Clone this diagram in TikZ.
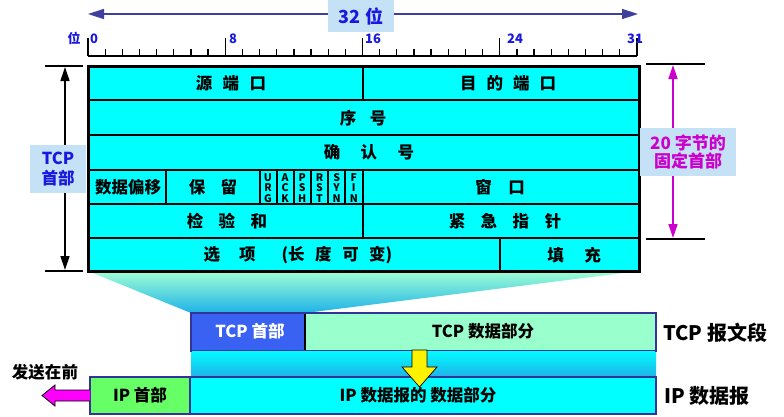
\documentclass[tikz,border=0pt]{standalone}
\usepackage{fontspec}
\setmainfont{Noto Sans CJK SC}
\usetikzlibrary{arrows.meta}
\definecolor{hdrcyan}{HTML}{00FFFF}
\definecolor{rulerblue}{HTML}{1818E0}
\definecolor{arrowindigo}{HTML}{3F3F9F}
\definecolor{labelbg}{HTML}{C5E1F6}
\definecolor{magentalbl}{HTML}{CC00CC}
\definecolor{segborder}{HTML}{333399}
\definecolor{tcphdr}{HTML}{3A62F2}
\definecolor{tcpdata}{HTML}{99FFCC}
\definecolor{iphdr}{HTML}{66FF66}
\definecolor{gradtop}{HTML}{A0FFD4}
\definecolor{gradbot}{HTML}{1EB2E8}
\definecolor{sendmag}{HTML}{FF00FF}
\tikzset{
  field/.style={font=\bfseries\fontsize{16.5}{18}\selectfont, inner sep=0pt},
  flagtext/.style={font=\bfseries\fontsize{10.5}{10.8}\selectfont, align=center, inner sep=0pt},
  rulerlbl/.style={font=\bfseries\fontsize{13}{13}\selectfont, text=rulerblue, inner sep=0pt},
  grid/.style={line width=2pt, black},
  frame/.style={line width=3pt, black},
  dimarrow/.style={line width=1.3pt, {Triangle[length=14pt,width=9pt]}-{Triangle[length=14pt,width=9pt]}},
  bigtxt/.style={font=\bfseries\fontsize{20}{22}\selectfont, inner sep=0pt},
  segtxt/.style={font=\bfseries\fontsize{16.5}{18}\selectfont, inner sep=0pt},
}
\begin{document}
\begin{tikzpicture}[x=1pt,y=-1pt]
\useasboundingbox (0,0) rectangle (784,416);

% ---------- gradient funnel ----------
\shade[top color=gradtop, bottom color=gradbot] (88,271) -- (639,271) -- (305,313) -- (191,313) -- cycle;
\shade[top color=hdrcyan, bottom color=gradbot] (191,350) rectangle (656,377);

% ---------- header block ----------
\fill[hdrcyan] (88,66) rectangle (639,271);
\draw[grid] (88,100) -- (639,100);
\draw[grid] (88,135) -- (639,135);
\draw[grid] (88,170) -- (639,170);
\draw[grid] (88,204) -- (639,204);
\draw[grid] (88,238) -- (639,238);
\draw[grid] (363,66) -- (363,100);
\draw[grid] (363,170) -- (363,238);
\draw[grid] (166,170) -- (166,204);
\foreach \xx in {259.5,276.6,293.8,310.9,328.1,345.2} \draw[grid] (\xx,170) -- (\xx,204);
\draw[grid] (500,238) -- (500,271);
\draw[frame] (88,66) rectangle (639,271);

\node[field] (srcport) at (231,83) {源\hspace{10.5pt}端\hspace{10.5pt}口};
\node[field] (dstport) at (508,83) {目\hspace{10pt}的\hspace{10pt}端\hspace{10pt}口};
\node[field] (seq) at (363,118) {序\hspace{13.5pt}号};
\node[field] (ack) at (369,152) {确\hspace{20.5pt}认\hspace{20.5pt}号};
\node[field] (offset) at (128,187) {数据偏移};
\node[field] (resv) at (213,187) {保\hspace{15.5pt}留};
\node[flagtext] (furg) at (268,188) {U\\R\\G};
\node[flagtext] (fack) at (285.2,188) {A\\C\\K};
\node[flagtext] (fpsh) at (302.3,188) {P\\S\\H};
\node[flagtext] (frst) at (319.5,188) {R\\S\\T};
\node[flagtext] (fsyn) at (336.6,188) {S\\Y\\N};
\node[flagtext] (ffin) at (353.8,188) {F\\I\\N};
\node[field] (window) at (500,187) {窗\hspace{16.5pt}口};
\node[field] (chksum) at (227,221) {检\hspace{15.5pt}验\hspace{15.5pt}和};
\node[field] (urgptr) at (505,221) {紧\hspace{15.5pt}急\hspace{15.5pt}指\hspace{15.5pt}针};
\node[field] (options) at (298,255) {选\hspace{19pt}项\hspace{26pt}(长\hspace{10.5pt}度\hspace{10.5pt}可\hspace{10.5pt}变)};
\node[field] (padding) at (574,255) {填\hspace{20.5pt}充};

% ---------- ruler ----------
\draw[line width=1.3pt] (88,56) -- (637,56);
\foreach \i in {0,...,32} {
  \pgfmathsetmacro{\tx}{88+\i*17.156}
  \draw[line width=1.3pt] (\tx,49) -- (\tx,56);
}
\foreach \i in {0,8,16,24,32} {
  \pgfmathsetmacro{\tx}{88+\i*17.156}
  \draw[line width=1.3pt] (\tx,38) -- (\tx,56);
}
\node[rulerlbl, anchor=base west] (r0) at (90,43) {0};
\node[rulerlbl, anchor=base west] (r8) at (229,43) {8};
\node[rulerlbl, anchor=base west] (r16) at (365,43) {16};
\node[rulerlbl, anchor=base west] (r24) at (507,43) {24};
\node[rulerlbl, anchor=base] (r31) at (635,43) {31};
\node[rulerlbl, anchor=base] (rwei) at (74,43) {位};

% ---------- top 32-bit arrow ----------
\coordinate (topL) at (88,14);
\coordinate (topR) at (638,14);
\draw[arrowindigo, line width=1.5pt, {Triangle[length=16pt,width=10pt]}-{Triangle[length=16pt,width=10pt]}] (topL) -- (topR);
\node[fill=labelbg, minimum width=66pt, minimum height=32pt, inner sep=0pt, text=rulerblue, font=\bfseries\fontsize{18}{20}\selectfont] (bits32) at (361,16) {32 位};

% ---------- left TCP header dimension ----------
\coordinate (lt1) at (45,66); \coordinate (lt2) at (83,66);
\coordinate (lb1) at (45,271); \coordinate (lb2) at (83,271);
\draw[line width=1.8pt] (lt1) -- (lt2);
\draw[line width=1.8pt] (lb1) -- (lb2);
\coordinate (la) at (65,67); \coordinate (lb) at (65,270);
\draw[dimarrow, black] (la) -- (lb);
\node[fill=labelbg, minimum width=56pt, minimum height=48pt, inner sep=0pt, text=rulerblue, align=center, font=\bfseries\fontsize{16.5}{19.5}\selectfont] (tcphdrlbl) at (58,169) {TCP\\首部};

% ---------- right 20-byte dimension ----------
\coordinate (rt1) at (646,64); \coordinate (rt2) at (705,64);
\coordinate (rb1) at (646,239); \coordinate (rb2) at (705,239);
\draw[line width=1.8pt] (rt1) -- (rt2);
\draw[line width=1.8pt] (rb1) -- (rb2);
\coordinate (ra) at (673,65); \coordinate (rb) at (673,238);
\draw[dimarrow, magentalbl] (ra) -- (rb);
\node[fill=labelbg, minimum width=96pt, minimum height=48pt, inner sep=0pt, text=magentalbl, align=center, font=\bfseries\fontsize{17}{18.5}\selectfont] (fixedlbl) at (688,152) {20 字节的\\固定首部};

% ---------- TCP segment ----------
\fill[tcphdr] (191,313) rectangle (305,350);
\fill[tcpdata] (305,313) rectangle (656,350);
\draw[black, line width=1.5pt] (305,313) -- (305,350);
\draw[segborder, line width=2.2pt] (191,352) -- (191,313) -- (656,313) -- (656,352);
\draw[segborder, line width=0.8pt] (191,350) -- (656,350);
\node[segtxt, text=white] (tcphead) at (250,331) {TCP 首部};
\node[segtxt] (tcpdatat) at (483,331) {TCP 数据部分};
\node[bigtxt, anchor=west] (tcpseg) at (663,333) {TCP 报文段};

% ---------- IP datagram ----------
\fill[iphdr] (90,377) rectangle (190,414);
\fill[hdrcyan] (190,377) rectangle (656,414);
\draw[segborder, line width=2.2pt] (90,377) rectangle (656,414);
\draw[segborder, line width=2pt] (190,377) -- (190,414);
\node[segtxt] (iphead) at (140,395) {IP 首部};
\node[segtxt] (ipdata) at (418,395) {IP 数据报的 数据部分};
\node[bigtxt, anchor=west] (ipdg) at (664,396) {IP 数据报};

% ---------- yellow down arrow ----------
\draw[fill=yellow, line width=0.7pt] (412,350) -- (427,350) -- (427,367) -- (437,367) -- (419.5,387) -- (402,367) -- (412,367) -- cycle;

% ---------- send-first arrow ----------
\node[font=\bfseries\fontsize{16.5}{18}\selectfont, inner sep=0pt] (sendfirst) at (45,372) {发送在前};
\draw[fill=sendmag, line width=0.8pt] (90,390) -- (55,390) -- (55,385) -- (42,395.5) -- (55,406) -- (55,401) -- (90,401);
\end{tikzpicture}
\end{document}
